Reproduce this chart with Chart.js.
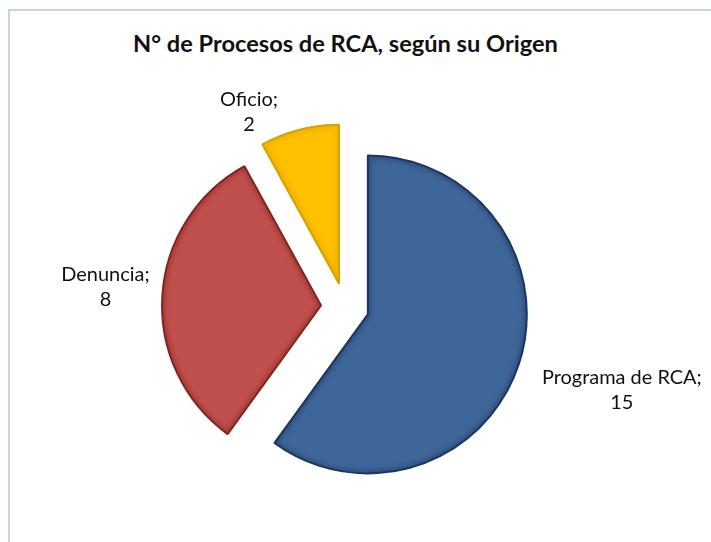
<!DOCTYPE html>
<html>
<head>
<meta charset="utf-8">
<script src="https://cdn.jsdelivr.net/npm/chart.js@4"></script>
<style>
  html, body { margin: 0; padding: 0; background: #fff; }
  #wrap { position: relative; width: 711px; height: 542px; overflow: hidden; }
  #frame { position: absolute; left: 8px; top: 9px; right: -5px; bottom: -5px;
           border-top: 2px solid #c6d6ea; border-left: 2px solid #c6d6ea; }
  #title { position: absolute; left: 0; width: 691px; top: 28px; text-align: center;
           font: bold 22px Lato, sans-serif; line-height: 30px; color: #111; white-space: nowrap; }
  canvas { position: absolute; left: 0; top: 0; }
</style>
</head>
<body>
<div id="wrap">
  <div id="frame"></div>
  <div id="title">N° de Procesos de RCA, según su Origen</div>
  <canvas id="origenChart" width="711" height="542"></canvas>
</div>
<script>
const categorias = ['Programa de RCA', 'Denuncia', 'Oficio'];
const procesos = [15, 8, 2];
const colores = ['#3f6698', '#c0504d', '#ffc000'];
const bordes = ['#1c3660', '#84241f', '#d9a000'];

// slices pulled out from the centre by this many px
const explode = 24;

// fit a font size so the text spans roughly the width seen in the original (Calibri there)
function fitSize(text, weight, base, target) {
  const c = document.createElement('canvas').getContext('2d');
  c.font = weight + ' ' + base + 'px Lato, sans-serif';
  return base * target / c.measureText(text).width;
}

const title = document.getElementById('title');
const titleSize = fitSize(title.textContent, 'bold', 22, 425);
title.style.fontSize = titleSize.toFixed(2) + 'px';
title.style.top = (52 - 15 - 0.387 * titleSize).toFixed(1) + 'px';

const labelSize = fitSize('Programa de RCA;', 'normal', 21, 160);

function wedge(ctx, arc) {
  ctx.beginPath();
  ctx.moveTo(arc.x, arc.y);
  ctx.arc(arc.x, arc.y, arc.outerRadius, arc.startAngle, arc.endAngle);
  ctx.closePath();
}

const explodePlugin = {
  id: 'explode',
  beforeDatasetDraw(chart, args) {
    const ctx = chart.ctx;
    args.meta.data.forEach((arc, i) => {
      const mid = (arc.startAngle + arc.endAngle) / 2;
      ctx.save();
      ctx.translate(Math.cos(mid) * explode, Math.sin(mid) * explode);
      arc.draw(ctx);
      // soft inner edge, like the bevel of the original
      wedge(ctx, arc);
      ctx.clip();
      ctx.filter = 'blur(2px)';
      ctx.lineWidth = 7;
      ctx.strokeStyle = bordes[i];
      ctx.globalAlpha = 0.45;
      wedge(ctx, arc);
      ctx.stroke();
      ctx.restore();
    });
    return false;
  }
};

const labelPlugin = {
  id: 'sliceLabels',
  afterDatasetsDraw(chart, args, opts) {
    const ctx = chart.ctx;
    const meta = chart.getDatasetMeta(0);
    ctx.save();
    ctx.font = labelSize.toFixed(2) + 'px Lato, sans-serif';
    ctx.fillStyle = '#111';
    ctx.textAlign = 'center';
    ctx.textBaseline = 'middle';
    meta.data.forEach((arc, i) => {
      const mid = (arc.startAngle + arc.endAngle) / 2;
      const d = opts.dist[i];
      const x = arc.x + Math.cos(mid) * d + opts.nudge[i][0];
      const y = arc.y + Math.sin(mid) * d + opts.nudge[i][1];
      ctx.fillText(chart.data.labels[i] + ';', x, y - 12.5);
      ctx.fillText(String(chart.data.datasets[0].data[i]), x, y + 12.5);
    });
    ctx.restore();
  }
};

new Chart(document.getElementById('origenChart'), {
  type: 'pie',
  data: {
    labels: categorias,
    datasets: [{
      data: procesos,
      backgroundColor: colores,
      borderColor: bordes,
      borderWidth: 2
    }]
  },
  options: {
    responsive: false,
    animation: false,
    radius: 159,
    layout: { padding: { left: 0, right: 21, top: 72, bottom: 0 } },
    plugins: {
      legend: { display: false },
      tooltip: { enabled: false },
      sliceLabels: {
        dist: [289, 240, 213],
        nudge: [[2, -6], [0, -5], [-43, 11]]
      }
    }
  },
  plugins: [explodePlugin, labelPlugin]
});
</script>
</body>
</html>
